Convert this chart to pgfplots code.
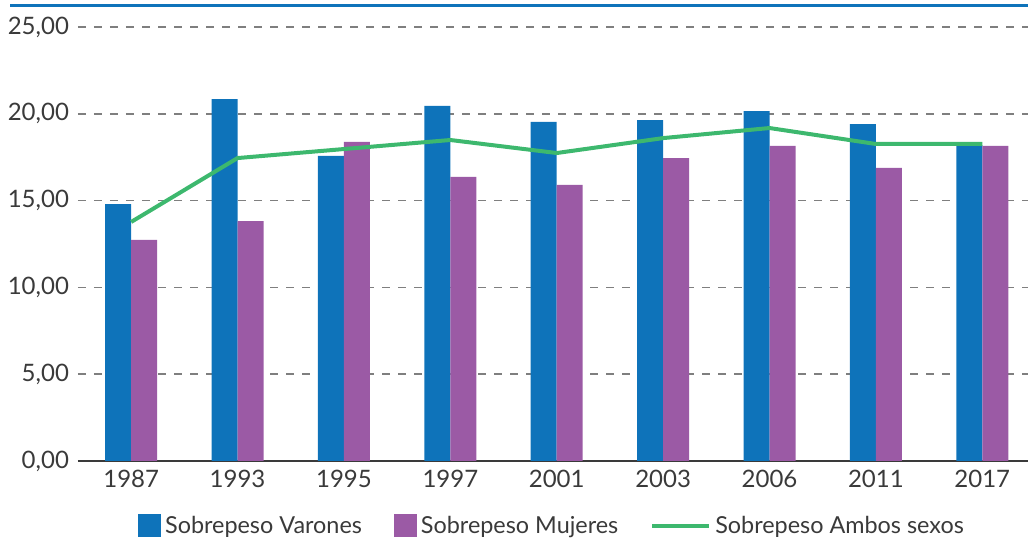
\documentclass[border=0pt]{standalone}
\usepackage{pgfplots}
\pgfplotsset{compat=1.18}
\usepackage{fontspec}
\setmainfont{Lato}
\definecolor{cblue}{HTML}{0E73BA}
\definecolor{cpurple}{HTML}{9B5AA5}
\definecolor{cgreen}{HTML}{3DB86E}
\definecolor{cgrid}{HTML}{7F7F7F}
\definecolor{ctext}{HTML}{3A3A3A}
\begin{document}
\begin{tikzpicture}
\useasboundingbox (0,0) rectangle (514pt,269.5pt);
\draw[cblue, line width=1.5pt] (5pt,266.5pt) -- (514pt,266.5pt);
\begin{axis}[
  at={(39pt,39pt)}, anchor=south west,
  width=475pt, height=217pt, scale only axis,
  xmin=-0.5, xmax=8.43, ymin=0, ymax=25,
  axis x line=bottom, axis y line=left,
  x axis line style={draw=ctext, line width=0.8pt, -},
  y axis line style={draw=none},
  xtick={0,1,2,3,4,5,6,7,8},
  xticklabels={1987,1993,1995,1997,2001,2003,2006,2011,2017},
  ytick={0,5,10,15,20,25},
  ymajorgrids,
  grid style={cgrid, line width=0.8pt, dash pattern=on 4pt off 4pt},
  major tick length=0pt,
  tick style={draw=none},
  /pgf/number format/assume math mode=true,
  yticklabel={\pgfmathprintnumber[fixed,fixed zerofill,precision=2,use comma]{\tick}},
  yticklabel style={font=\fontsize{12}{14}\selectfont, text=ctext, xshift=-1pt},
  xticklabel style={font=\fontsize{12}{14}\selectfont, text=ctext, yshift=-1pt},
  legend columns=3,
  legend style={at={(axis description cs:0.5,0)}, anchor=center, yshift=-32.5pt,
    draw=none, fill=none, font=\fontsize{11.7}{13}\selectfont, text=ctext,
    /tikz/every even column/.append style={column sep=14pt}},
  clip=false,
]
\addplot[ybar, bar width=13pt, bar shift=-6.5pt, fill=cblue, draw=none,
  legend image code/.code={\fill[cblue] (0pt,-5.75pt) rectangle (11.5pt,5.75pt);}]
  coordinates {(0,14.80) (1,20.85) (2,17.57) (3,20.45) (4,19.53) (5,19.64) (6,20.16) (7,19.41) (8,18.20)};
\addlegendentry{Sobrepeso Varones}
\addplot[ybar, bar width=13pt, bar shift=6.5pt, fill=cpurple, draw=none,
  legend image code/.code={\fill[cpurple] (0pt,-5.75pt) rectangle (11.5pt,5.75pt);}]
  coordinates {(0,12.73) (1,13.82) (2,18.38) (3,16.36) (4,15.90) (5,17.45) (6,18.15) (7,16.88) (8,18.15)};
\addlegendentry{Sobrepeso Mujeres}
\addplot[cgreen, line width=2pt, mark=none, sharp plot,
  legend image code/.code={\draw[cgreen, line width=2pt] (0pt,0pt) -- (28.5pt,0pt);}]
  coordinates {(0,13.77) (1,17.45) (2,17.97) (3,18.49) (4,17.74) (5,18.60) (6,19.18) (7,18.26) (8,18.26)};
\addlegendentry{Sobrepeso Ambos sexos}
\end{axis}
\end{tikzpicture}
\end{document}
